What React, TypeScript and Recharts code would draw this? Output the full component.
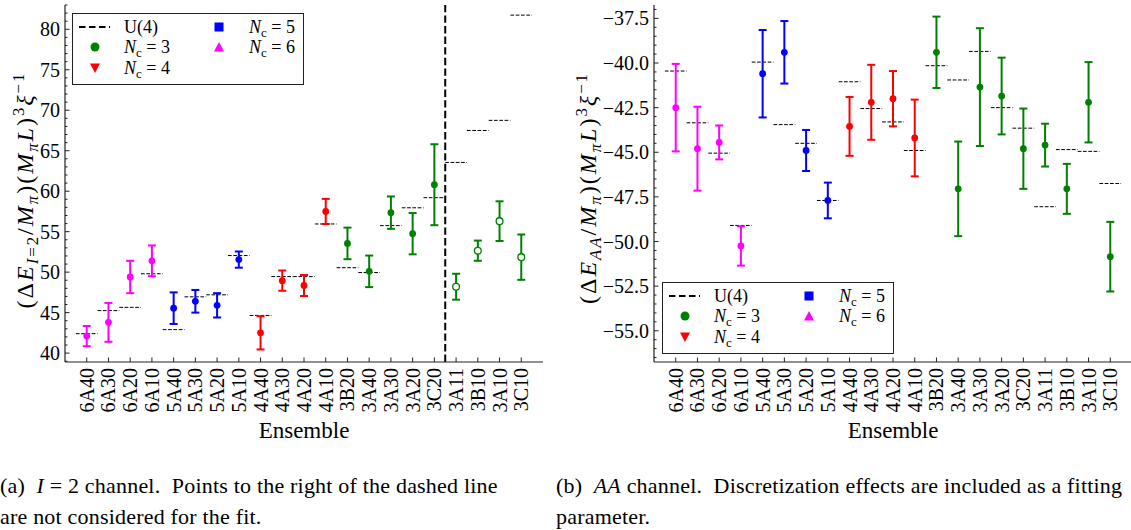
import React from "react";
import { ComposedChart, Scatter, ErrorBar, XAxis, YAxis, ReferenceLine } from "recharts";

// ensembles along the x axis (first digit = N_c)
const ensembles = [
  "6A40", "6A30", "6A20", "6A10", "5A40", "5A30", "5A20", "5A10",
  "4A40", "4A30", "4A20", "4A10", "3B20", "3A40", "3A30", "3A20", "3C20",
  "3A11", "3B10", "3A10", "3C10",
];

// (a) I = 2 channel
const i2Values = [42.1, 43.8, 49.4, 51.4, 45.55, 46.4, 45.9, 51.55, 42.5, 48.95, 48.35, 57.5, 53.55, 50.1, 57.35, 54.75, 60.8, 48.2, 52.65, 56.3, 51.85];
const i2Errors = [1.25, 2.4, 2.0, 1.9, 1.95, 1.4, 1.5, 1.0, 2.05, 1.25, 1.3, 1.55, 1.95, 1.95, 2.0, 2.55, 5.0, 1.6, 1.25, 2.45, 2.8];
const i2U4 = [42.4, 45.25, 45.65, 49.8, 42.9, 46.95, 47.2, 52.05, 44.65, 49.45, 49.45, 55.95, 50.55, 49.95, 55.75, 57.95, 59.2, 63.55, 67.5, 68.75, 81.75];
const i2Excluded = ["3A11", "3B10", "3A10", "3C10"];
const i2CutAfter = "3C20";
const i2MajorTicks = [40, 45, 50, 55, 60, 65, 70, 75, 80];

// (b) AA channel
const aaValues = [-42.5, -44.8, -44.45, -50.25, -40.6, -39.4, -44.9, -47.7, -43.55, -42.2, -42.0, -44.2, -39.4, -47.05, -41.35, -41.85, -44.8, -44.6, -47.05, -42.2, -50.85];
const aaErrors = [2.45, 2.35, 0.95, 1.1, 2.45, 1.75, 1.15, 1.0, 1.65, 2.1, 1.55, 2.15, 2.0, 2.65, 3.3, 2.15, 2.25, 1.2, 1.4, 2.25, 1.95];
const aaU4 = [-40.45, -43.35, -45.05, -49.1, -39.95, -43.45, -44.5, -47.7, -41.05, -42.55, -43.3, -44.9, -40.15, -40.95, -39.35, -42.5, -43.65, -48.05, -44.85, -44.95, -46.75];
const aaMajorTicks = [-55, -52.5, -50, -47.5, -45, -42.5, -40, -37.5];

const ncValues = [3, 4, 5, 6];
const ncColors = ["#008000", "#ff0000", "#0000ff", "#ff00ff"];

const axisColor = "#222";
const serif =
  '"Liberation Serif", "DejaVu Serif", "Noto Serif", Tinos, "Nimbus Roman", FreeSerif, "Times New Roman", Times, serif';

type PanelProps = {
  values: number[];
  errors: number[];
  u4: number[];
  domain: [number, number];
  majors: number[];
  minorStep: number;
  fmt: (v: number) => string;
  hollow: string[];
  cutAfter?: string;
};

function Panel({ values, errors, u4, domain, majors, minorStep, fmt, hollow, cutAfter }: PanelProps) {
  const rows = ensembles.map((name, i) => ({
    x: i,
    y: values[i],
    err: errors[i],
    nc: Number(name[0]),
    open: hollow.includes(name),
  }));

  const groups: { key: string; color: string; open: boolean; data: typeof rows }[] = [];
  ncValues.forEach((nc, k) => {
    [false, true].forEach((open) => {
      const data = rows.filter((r) => r.nc === nc && r.open === open);
      if (data.length) groups.push({ key: `${nc}-${open}`, color: ncColors[k], open, data });
    });
  });

  const minor: number[] = [];
  for (let k = Math.ceil(domain[0] / minorStep); k <= Math.floor(domain[1] / minorStep); k++) {
    minor.push(Number((k * minorStep).toFixed(3)));
  }
  const isMajor = (v: number) => majors.some((m) => Math.abs(m - v) < 1e-6);
  const xTicks = ensembles.map((_, i) => i);

  const bottomTick = (p: any) => {
    const { x, y, payload } = p;
    const ty = y + 6;
    return (
      <g>
        <line x1={x} x2={x} y1={y} y2={y - 4.5} stroke={axisColor} />
        <text x={x} y={ty} transform={`rotate(-90 ${x} ${ty})`} textAnchor="end" dominantBaseline="central" fontSize={20} fontFamily={serif} fill="#000">
          {ensembles[payload.value]}
        </text>
      </g>
    );
  };
  const topTick = (p: any) => (
    <line x1={p.x} x2={p.x} y1={p.y} y2={p.y + 4.5} stroke={axisColor} />
  );
  const leftTick = (p: any) => {
    const { x, y, payload } = p;
    const major = isMajor(payload.value);
    return (
      <g>
        <line x1={x} x2={x + (major ? 4.5 : 2.5)} y1={y} y2={y} stroke={axisColor} />
        {major && (
          <text x={x - 5} y={y} textAnchor="end" dominantBaseline="central" fontSize={20} fontFamily={serif} fill="#000">
            {fmt(payload.value)}
          </text>
        )}
      </g>
    );
  };
  const rightTick = (p: any) => {
    const major = isMajor(p.payload.value);
    return <line x1={p.x} x2={p.x - (major ? 4.5 : 2.5)} y1={p.y} y2={p.y} stroke={axisColor} />;
  };

  const cutIndex = cutAfter ? ensembles.indexOf(cutAfter) + 0.5 : null;

  return (
    <ComposedChart width={560} height={420} margin={{ top: 5, right: 17, left: 5, bottom: 0 }}>
      <XAxis
        xAxisId="b"
        type="number"
        dataKey="x"
        domain={[-1, 21]}
        ticks={xTicks}
        interval={0}
        height={58}
        tickSize={0}
        tickMargin={0}
        tickLine={false}
        axisLine={{ stroke: axisColor, strokeWidth: 1.2 }}
        tick={bottomTick}
      />
      <XAxis
        xAxisId="t"
        orientation="top"
        type="number"
        dataKey="x"
        domain={[-1, 21]}
        ticks={xTicks}
        interval={0}
        height={0}
        tickSize={0}
        tickMargin={0}
        tickLine={false}
        axisLine={{ stroke: axisColor, strokeWidth: 1.2 }}
        tick={topTick}
      />
      <YAxis
        yAxisId="l"
        type="number"
        dataKey="y"
        domain={domain}
        allowDataOverflow
        ticks={minor}
        interval={0}
        width={60}
        tickSize={0}
        tickMargin={0}
        tickLine={false}
        axisLine={{ stroke: axisColor, strokeWidth: 1.2 }}
        tick={leftTick}
      />
      <YAxis
        yAxisId="r"
        orientation="right"
        type="number"
        dataKey="y"
        domain={domain}
        allowDataOverflow
        ticks={minor}
        interval={0}
        width={0}
        tickSize={0}
        tickMargin={0}
        tickLine={false}
        axisLine={{ stroke: axisColor, strokeWidth: 1.2 }}
        tick={rightTick}
      />
      {u4.map((u, i) => (
        <ReferenceLine
          key={`u4-${i}`}
          xAxisId="b"
          yAxisId="l"
          segment={[{ x: i - 0.5, y: u }, { x: i + 0.5, y: u }]}
          stroke="#000"
          strokeWidth={1}
          strokeDasharray="3.7 1.6"
          ifOverflow="visible"
        />
      ))}
      {cutIndex !== null && (
        <ReferenceLine xAxisId="b" yAxisId="l" x={cutIndex} stroke="#000" strokeWidth={2} strokeDasharray="7.4 3.2" />
      )}
      {groups.map((g) => (
        <Scatter
          key={g.key}
          xAxisId="b"
          yAxisId="l"
          data={g.data}
          isAnimationActive={false}
          shape={(p: any) => (
            <circle cx={p.cx} cy={p.cy} r={3.4} fill={g.open ? "#fff" : g.color} stroke={g.color} strokeWidth={g.open ? 1.3 : 0} />
          )}
        >
          <ErrorBar dataKey="err" direction="y" width={4} strokeWidth={2} stroke={g.color} />
        </Scatter>
      ))}
      <Scatter xAxisId="t" yAxisId="r" data={rows} isAnimationActive={false} shape={() => <g />} />
    </ComposedChart>
  );
}

const Nc = ({ n }: { n: number }) => (
  <span>
    <i>N</i>
    <span style={{ fontSize: "0.72em", position: "relative", top: "0.3em" }}>c</span>
    {` = ${n}`}
  </span>
);

function Legend({ left, top }: { left: number; top: number }) {
  const rowY = [14, 34, 55];
  const text = (x: number, y: number, content: React.ReactNode) => (
    <div style={{ position: "absolute", left: x, top: y, transform: "translateY(-50%)", fontSize: 18, lineHeight: 1, whiteSpace: "nowrap" }}>
      {content}
    </div>
  );
  const tri = (cx: number, cy: number, up: boolean) =>
    up ? `${cx - 5},${cy + 4.5} ${cx + 5},${cy + 4.5} ${cx},${cy - 5}` : `${cx - 5},${cy - 4.5} ${cx + 5},${cy - 4.5} ${cx},${cy + 5}`;
  return (
    <div style={{ position: "absolute", left, top, width: 232, height: 72, border: `1.3px solid ${axisColor}`, background: "#fff", boxSizing: "border-box" }}>
      <svg width={232} height={72} style={{ position: "absolute", left: -1.3, top: -1.3 }}>
        <line x1={7} x2={38} y1={rowY[0]} y2={rowY[0]} stroke="#000" strokeWidth={2} strokeDasharray="6.5 3.5" />
        <circle cx={23} cy={rowY[1]} r={4.5} fill={ncColors[0]} />
        <polygon points={tri(23, rowY[2], false)} fill={ncColors[1]} />
        <rect x={142.5} y={rowY[0] - 4.5} width={9} height={9} fill={ncColors[2]} />
        <polygon points={tri(147, rowY[1], true)} fill={ncColors[3]} />
      </svg>
      {text(51, rowY[0] - 1, "U(4)")}
      {text(51, rowY[1] - 1, <Nc n={ncValues[0]} />)}
      {text(51, rowY[2] - 1, <Nc n={ncValues[1]} />)}
      {text(176, rowY[0] - 1, <Nc n={ncValues[2]} />)}
      {text(176, rowY[1] - 1, <Nc n={ncValues[3]} />)}
    </div>
  );
}

const sub = (c: React.ReactNode) => (
  <span style={{ fontSize: "0.7em", position: "relative", top: "0.3em" }}>{c}</span>
);
const sup = (c: React.ReactNode) => (
  <span style={{ fontSize: "0.7em", position: "relative", top: "-0.55em" }}>{c}</span>
);

function YLabel({ x, y, children }: { x: number; y: number; children: React.ReactNode }) {
  return (
    <div
      style={{
        position: "absolute",
        left: x,
        top: y,
        transform: "translate(-50%, -50%) rotate(-90deg)",
        fontSize: 24,
        letterSpacing: 2,
        lineHeight: 1,
        whiteSpace: "nowrap",
      }}
    >
      {children}
    </div>
  );
}

export default function App() {
  return (
    <div
      style={{
        position: "absolute",
        left: 0,
        top: 0,
        width: 1131,
        height: 530,
        overflow: "hidden",
        background: "#fff",
        color: "#000",
        fontFamily: serif,
      }}
    >
      <div style={{ position: "absolute", left: 0, top: 0 }}>
        <Panel
          values={i2Values}
          errors={i2Errors}
          u4={i2U4}
          domain={[38.9, 83]}
          majors={i2MajorTicks}
          minorStep={1}
          fmt={(v) => String(v)}
          hollow={i2Excluded}
          cutAfter={i2CutAfter}
        />
      </div>
      <div style={{ position: "absolute", left: 589, top: 0 }}>
        <Panel
          values={aaValues}
          errors={aaErrors}
          u4={aaU4}
          domain={[-56.75, -36.75]}
          majors={aaMajorTicks}
          minorStep={0.5}
          fmt={(v) => "\u2212" + Math.abs(v).toFixed(1)}
          hollow={[]}
        />
      </div>
      <Legend left={72} top={13} />
      <Legend left={662} top={282} />
      <YLabel x={25} y={190}>
        (Δ<i>E</i>
        {sub(<><i>I</i>=2</>)}/<i>M</i>
        {sub(<i>π</i>)})(<i>M</i>
        {sub(<i>π</i>)}
        <i>L</i>){sup("3")}
        <i>ξ</i>
        {sup("\u22121")}
      </YLabel>
      <YLabel x={588} y={188}>
        (Δ<i>E</i>
        {sub(<i>AA</i>)}/<i>M</i>
        {sub(<i>π</i>)})(<i>M</i>
        {sub(<i>π</i>)}
        <i>L</i>){sup("3")}
        <i>ξ</i>
        {sup("\u22121")}
      </YLabel>
      <div style={{ position: "absolute", left: 304, top: 430, transform: "translate(-50%, -50%)", fontSize: 23, lineHeight: 1 }}>
        Ensemble
      </div>
      <div style={{ position: "absolute", left: 893, top: 430, transform: "translate(-50%, -50%)", fontSize: 23, lineHeight: 1 }}>
        Ensemble
      </div>
      <div style={{ position: "absolute", left: 0, top: 470, fontSize: 22, letterSpacing: 0.2, lineHeight: "31px", whiteSpace: "nowrap" }}>
        <div>
          (a)&nbsp; <i>I</i> = 2 channel.&nbsp; Points to the right of the dashed line
        </div>
        <div>are not considered for the fit.</div>
      </div>
      <div style={{ position: "absolute", left: 556, top: 470, fontSize: 22, letterSpacing: 0.2, lineHeight: "31px", whiteSpace: "nowrap" }}>
        <div>
          (b)&nbsp; <i>AA</i> channel.&nbsp; Discretization effects are included as a fitting
        </div>
        <div>parameter.</div>
      </div>
    </div>
  );
}
